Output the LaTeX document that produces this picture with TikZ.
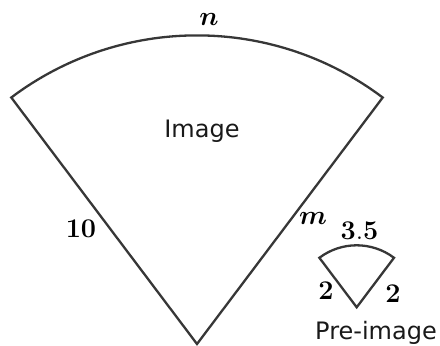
\RequirePackage{fix-cm}
\documentclass[tikz,border=0pt]{standalone}
\usepackage{amsmath}
\usepackage{bm}
\usepackage[no-math]{fontspec}
\newfontfamily\labelsans{DejaVu Sans}
\definecolor{edge}{RGB}{55,55,55}
\tikzset{
  sector/.style={draw=edge, line width=2.3pt, line join=miter},
  mlabel/.style={inner sep=0pt, anchor=base, font=\fontsize{27}{32}\selectfont},
  tlabel/.style={inner sep=0pt, anchor=base, font=\labelsans\fontsize{24}{28}\selectfont, text=black!90},
}
\begin{document}
\begin{tikzpicture}[x=1pt,y=1pt]
\useasboundingbox (0,0) rectangle (440,346);
% big sector (image)
\coordinate (A) at (197,2);
\draw[sector] (A) -- ++(127:308.6) coordinate (AL)
  arc[start angle=127, end angle=53, radius=308.6] coordinate (AR) -- cycle;
% small sector (pre-image)
\coordinate (B) at (356.7,38.7);
\draw[sector] (B) -- ++(127:62) coordinate (BL)
  arc[start angle=127, end angle=53, radius=62] coordinate (BR) -- cycle;
% labels
\node[mlabel] (n) at (209,320) {$\bm{n}$};
\node[tlabel] (img) at (202,208) {Image};
\node[mlabel] (ten) at (81,108) {$\mathbf{10}$};
\node[mlabel] (m) at (313,121) {$\bm{m}$};
\node[mlabel] (tf) at (359.5,106) {$\mathbf{3.5}$};
\node[mlabel] (two1) at (326,46) {$\mathbf{2}$};
\node[mlabel] (two2) at (393,43.3) {$\mathbf{2}$};
\node[tlabel] (pre) at (376,6) {Pre-image};
\end{tikzpicture}
\end{document}
